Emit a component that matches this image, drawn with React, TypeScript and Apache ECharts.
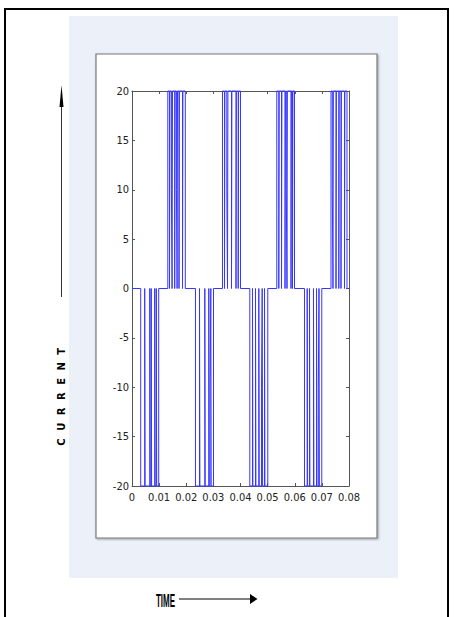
import React, { useEffect, useRef } from 'react';
import * as echarts from 'echarts';

// Axis tick labels
const xTickLabels = ['0', '0.01', '0.02', '0.03', '0.04', '0.05', '0.06', '0.07', '0.08'];
const yTickLabels = ['-20', '-15', '-10', '-5', '0', '5', '10', '15', '20'];

// Full pulse level of the output current (A)
const PEAK = 20;

// Switching instants (s) of each half-cycle pulse train.
// First entry: current leaves 0, last entry: current returns to 0,
// entries in between: short notches back towards 0.
const negTrain1 = [0.00321, 0.00468, 0.00656, 0.00708, 0.00837, 0.00896, 0.00984];
const posTrain1 = [0.0132, 0.01382, 0.01478, 0.01574, 0.01663, 0.01733, 0.01862, 0.01965];
const negTrain2 = [0.02341, 0.02488, 0.02684, 0.02831, 0.02905, 0.03005];
const posTrain2 = [0.03336, 0.0341, 0.03521, 0.03668, 0.03834, 0.03915, 0.04];
const negTrain3 = [0.04343, 0.04442, 0.04553, 0.04675, 0.048, 0.04885, 0.05006];
const posTrain3 = [0.05338, 0.05412, 0.05512, 0.05641, 0.05714, 0.05862, 0.05917, 0.05991];
const negTrain4 = [0.06359, 0.06459, 0.06544, 0.06691, 0.06802, 0.06894, 0.06997];
const posTrain4 = [0.07336, 0.0741, 0.07521, 0.07624, 0.07705, 0.07834, 0.07926];

// Polarity of each train, in time order
const trainSigns = [-1, 1, -1, 1, -1, 1, -1, 1];
const trains = [negTrain1, posTrain1, negTrain2, posTrain2, negTrain3, posTrain3, negTrain4, posTrain4];

// Notches that pass through the half level (±10 A) on the way to 0
const halfStepNotches = [0.01478, 0.01663, 0.02905, 0.03521, 0.048, 0.05714, 0.06894, 0.0741];

// Notch duration and half-level dwell (s)
const NOTCH = 0.00015;
const STEP = 0.00025;
const T_END = 0.08;

function buildWaveform(): [number, number][] {
  const pts: [number, number][] = [[0, 0]];
  trains.forEach((times, k) => {
    const level = trainSigns[k] * PEAK;
    const first = times[0];
    const last = times[times.length - 1];
    pts.push([first, 0], [first, level]);
    times.slice(1, -1).forEach((t) => {
      if (halfStepNotches.includes(t)) {
        pts.push([t - STEP, level], [t - STEP, level / 2], [t, level / 2], [t, 0], [t + NOTCH, 0], [t + NOTCH, level]);
      } else {
        pts.push([t, level], [t, 0], [t + NOTCH, 0], [t + NOTCH, level]);
      }
    });
    pts.push([last, level], [last, 0]);
  });
  pts.push([T_END, 0]);
  return pts;
}

const tickFont = "'Liberation Sans Narrow', 'DejaVu Sans Condensed', 'Liberation Sans', sans-serif";
const axisColor = '#555';

export default function App() {
  const ref = useRef<HTMLDivElement>(null);

  useEffect(() => {
    if (!ref.current) return;
    const chart = echarts.init(ref.current, undefined, { renderer: 'svg' });

    const tickStyle = { show: true, inside: true, length: 3, lineStyle: { color: axisColor } };
    const lineStyle = { show: true, onZero: false, lineStyle: { color: axisColor, width: 1 } };

    chart.setOption({
      animation: false,
      grid: { left: 132, top: 91, width: 217, height: 395 },
      xAxis: [
        {
          type: 'value', position: 'bottom', min: 0, max: 0.08, interval: 0.01, z: 5,
          axisLine: lineStyle, axisTick: tickStyle, splitLine: { show: false },
          axisLabel: {
            margin: 6, fontSize: 11, fontFamily: tickFont, color: '#222',
            formatter: (v: number) => xTickLabels[Math.round(v / 0.01)],
          },
        },
        {
          type: 'value', position: 'top', min: 0, max: 0.08, interval: 0.01, z: 5,
          axisLine: lineStyle, axisTick: tickStyle, splitLine: { show: false },
          axisLabel: { show: false },
        },
      ],
      yAxis: [
        {
          type: 'value', position: 'left', min: -20, max: 20, interval: 5, z: 5,
          axisLine: lineStyle, axisTick: tickStyle, splitLine: { show: false },
          axisLabel: {
            margin: 3, fontSize: 11, fontFamily: tickFont, color: '#222',
            formatter: (v: number) => yTickLabels[Math.round((v + 20) / 5)],
          },
        },
        {
          type: 'value', position: 'right', min: -20, max: 20, interval: 5, z: 5,
          axisLine: lineStyle, axisTick: tickStyle, splitLine: { show: false },
          axisLabel: { show: false },
        },
      ],
      series: [
        {
          type: 'line',
          data: buildWaveform(),
          showSymbol: false,
          symbol: 'none',
          z: 6,
          clip: false,
          lineStyle: { color: 'rgb(55,55,255)', width: 1 },
        },
      ],
      graphic: [
        {
          type: 'rect', z: -10, silent: true,
          shape: { x: 5, y: 9, width: 443, height: 660 },
          style: { fill: 'none', stroke: '#000', lineWidth: 2 },
        },
        {
          type: 'rect', z: -9, silent: true,
          shape: { x: 69, y: 16, width: 329, height: 562 },
          style: { fill: '#ecf0f9' },
        },
        {
          type: 'rect', z: -8, silent: true,
          shape: { x: 96, y: 54, width: 281, height: 484 },
          style: {
            fill: '#fff', stroke: '#7a7a7a', lineWidth: 1.2,
            shadowColor: 'rgba(0,0,0,0.35)', shadowBlur: 2, shadowOffsetX: 1, shadowOffsetY: 1,
          },
        },
        {
          type: 'line', z: 1, silent: true,
          shape: { x1: 61.5, y1: 297, x2: 61.5, y2: 104 },
          style: { stroke: '#333', lineWidth: 1 },
        },
        {
          type: 'polygon', z: 1, silent: true,
          shape: { points: [[61.5, 85], [59.5, 107], [63.5, 107]] },
          style: { fill: '#000' },
        },
        {
          type: 'text', z: 1, silent: true,
          x: 61, y: 393, rotation: Math.PI / 2,
          style: {
            text: 'CURRENT', fontFamily: "'DejaVu Sans', sans-serif", fontWeight: 'bold', fontSize: 10,
            fill: '#000', align: 'center', verticalAlign: 'middle',
          },
        },
        {
          type: 'text', z: 1, silent: true,
          x: 165.5, y: 600, scaleX: 0.42,
          style: {
            text: 'TIME', fontFamily: "'Liberation Sans', sans-serif", fontWeight: 'bold', fontSize: 19,
            fill: '#000', align: 'center', verticalAlign: 'middle',
          },
        },
        {
          type: 'line', z: 1, silent: true,
          shape: { x1: 179, y1: 599, x2: 251, y2: 599 },
          style: { stroke: '#000', lineWidth: 1.2 },
        },
        {
          type: 'polygon', z: 1, silent: true,
          shape: { points: [[257.5, 599], [250, 594], [250, 604]] },
          style: { fill: '#000' },
        },
      ],
    });

    // spread the vertical axis caption letters apart
    ref.current.querySelectorAll('text').forEach((t) => {
      if (t.textContent === 'CURRENT') t.setAttribute('letter-spacing', '7.5');
    });

    return () => chart.dispose();
  }, []);

  return (
    <div
      ref={ref}
      style={{ position: 'fixed', left: 0, top: 0, width: 454, height: 617, background: '#fff' }}
    />
  );
}
